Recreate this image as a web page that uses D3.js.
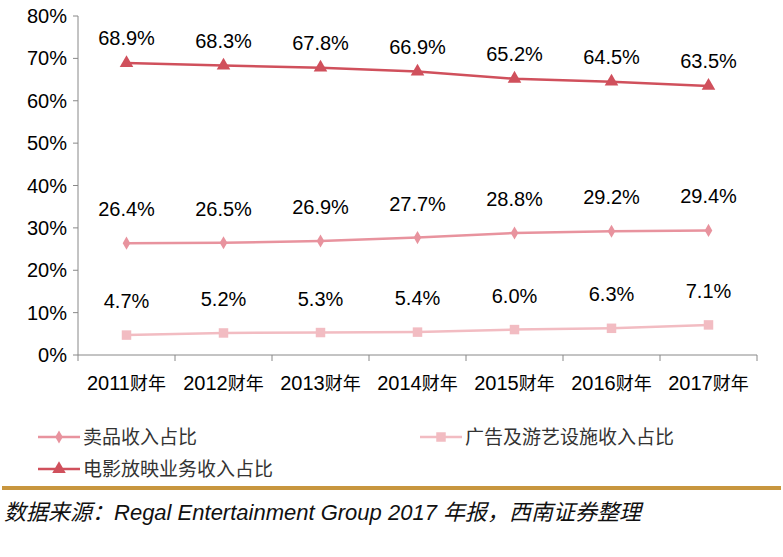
<!DOCTYPE html><html><head><meta charset="utf-8"><script src="https://cdn.jsdelivr.net/npm/d3@7"></script>
<style>body{margin:0;background:#fff}</style></head><body><svg id="c" width="783" height="557"></svg><script>
const categories=["2011财年","2012财年","2013财年","2014财年","2015财年","2016财年","2017财年"];
const screening=[68.9,68.3,67.8,66.9,65.2,64.5,63.5];
const concession=[26.4,26.5,26.9,27.7,28.8,29.2,29.4];
const advertising=[4.7,5.2,5.3,5.4,6.0,6.3,7.1];
const yTicks=[0,10,20,30,40,50,60,70,80];
const svg=d3.select("#c");
const F="Liberation Sans, Arial, sans-serif", CJK="Noto Sans CJK SC";
const x=d3.scaleBand().domain(categories).range([78,757]);
const y=d3.scaleLinear().domain([0,80]).range([355,16]);
const g=svg.append("g");
g.append("line").attr("x1",78).attr("x2",78).attr("y1",16).attr("y2",355).attr("stroke","#888");
g.append("line").attr("x1",78).attr("x2",757).attr("y1",355).attr("y2",355).attr("stroke","#888");
yTicks.forEach(t=>{g.append("line").attr("x1",73).attr("x2",78).attr("y1",y(t)).attr("y2",y(t)).attr("stroke","#888");
 g.append("text").attr("x",67).attr("y",y(t)+7).attr("text-anchor","end").attr("font-family",F).attr("font-size",20).text(t+"%");});
categories.forEach((c,i)=>{const xx=x.range()[0]+i*x.bandwidth();
 g.append("line").attr("x1",xx).attr("x2",xx).attr("y1",355).attr("y2",361).attr("stroke","#888");
 const t=g.append("text").attr("x",x(c)+x.bandwidth()/2).attr("y",390).attr("text-anchor","middle").attr("font-size",20);
 t.append("tspan").attr("font-family",F).text(c.slice(0,4));t.append("tspan").attr("font-family",CJK).attr("font-size",18).text(c.slice(4));});
g.append("line").attr("x1",757).attr("x2",757).attr("y1",355).attr("y2",361).attr("stroke","#888");
const cx=c=>x(c)+x.bandwidth()/2;
const series=[{d:screening,col:"#d0505c",sym:d3.symbolTriangle,sz:80,dy:-18},{d:concession,col:"#e8939e",sym:d3.symbolDiamond,sz:50,dy:-27},{d:advertising,col:"#f2bcc2",sym:d3.symbolSquare,sz:90,dy:-27}];
series.forEach(s=>{
 g.append("path").attr("fill","none").attr("stroke",s.col).attr("stroke-width",2.5).attr("d",d3.line().x((v,i)=>cx(categories[i])).y(v=>y(v))(s.d));
 s.d.forEach((v,i)=>{g.append("path").attr("d",d3.symbol(s.sym,s.sz)()).attr("fill",s.col).attr("transform",`translate(${cx(categories[i])},${y(v)})`);
  g.append("text").attr("x",cx(categories[i])).attr("y",y(v)+s.dy).attr("text-anchor","middle").attr("font-family",F).attr("font-size",20).text(v.toFixed(1)+"%");});
});
const leg=[{n:"卖品收入占比",s:series[1],x:38,y:437},{n:"广告及游艺设施收入占比",s:series[2],x:420,y:437},{n:"电影放映业务收入占比",s:series[0],x:38,y:469}];
leg.forEach(l=>{g.append("line").attr("x1",l.x).attr("x2",l.x+42).attr("y1",l.y).attr("y2",l.y).attr("stroke",l.s.col).attr("stroke-width",2.5);
 g.append("path").attr("d",d3.symbol(l.s.sym,l.s.sz)()).attr("fill",l.s.col).attr("transform",`translate(${l.x+21},${l.y})`);
 g.append("text").attr("x",l.x+45).attr("y",l.y+7).attr("font-family",CJK).attr("font-size",19).attr("fill","#333").text(l.n);});
g.append("rect").attr("x",2).attr("y",486).attr("width",779).attr("height",4).attr("fill","#c8963e");
const st=g.append("text").attr("x",4).attr("y",520).attr("font-style","italic").attr("font-size",22).attr("fill","#111");
st.append("tspan").attr("font-family",CJK).text("数据来源：");
st.append("tspan").attr("font-family",F).text("Regal Entertainment Group 2017 ");
st.append("tspan").attr("font-family",CJK).text("年报，西南证券整理");
</script></body></html>
